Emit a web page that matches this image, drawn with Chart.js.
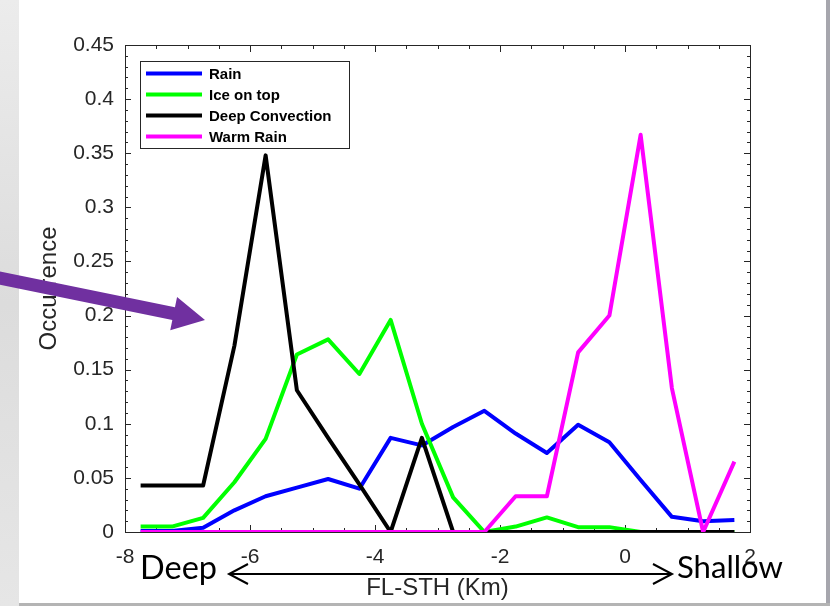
<!DOCTYPE html>
<html>
<head>
<meta charset="utf-8">
<script src="https://cdn.jsdelivr.net/npm/chart.js@4/dist/chart.umd.min.js"></script>
<style>
  html, body { margin: 0; padding: 0; background: #fff; }
  canvas { display: block; }
</style>
</head>
<body>
<canvas id="chart" width="830" height="606"></canvas>
<script>
// bin centres (km) and occurrence for each class
var xCenters = [-7.75, -7.25, -6.75, -6.25, -5.75, -5.25, -4.75, -4.25, -3.75, -3.25,
                -2.75, -2.25, -1.75, -1.25, -0.75, -0.25, 0.25, 0.75, 1.25, 1.75];
var rain = [0.001, 0.001, 0.004, 0.020, 0.033, 0.041, 0.049, 0.040, 0.087, 0.080,
            0.097, 0.112, 0.091, 0.073, 0.099, 0.083, 0.048, 0.014, 0.010, 0.011];
var iceOnTop = [0.005, 0.005, 0.013, 0.046, 0.086, 0.164, 0.178, 0.146, 0.196, 0.100,
                0.032, 0.000, 0.005, 0.0135, 0.0045, 0.0045, 0.000, 0.000, 0.000, 0.000];
var deepConvection = [0.043, 0.043, 0.043, 0.172, 0.348, 0.131, 0.087, 0.044, 0.000, 0.087,
                      0.000, 0.000, 0.000, 0.000, 0.000, 0.000, 0.000, 0.000, 0.000, 0.000];
var warmRain = [0, 0, 0, 0, 0, 0, 0, 0, 0, 0,
                0, 0, 0.033, 0.033, 0.166, 0.200, 0.367, 0.133, 0.000, 0.065];

var seriesNames = ["Rain", "Ice on top", "Deep Convection", "Warm Rain"];
var seriesColors = ["#0000ff", "#00ff00", "#000000", "#ff00ff"];
var seriesValues = [rain, iceOnTop, deepConvection, warmRain];

var xTicks = [-8, -6, -4, -2, 0, 2];
var yTicks = [0, 0.05, 0.1, 0.15, 0.2, 0.25, 0.3, 0.35, 0.4, 0.45];

var axisColor = "#262626";
var sansFont = "'Liberation Sans', Arial, sans-serif";

// slide background + white figure panel
var backgroundPlugin = {
    id: "background",
    beforeDraw: function (chart) {
        var ctx = chart.ctx;
        ctx.save();
        var g = ctx.createLinearGradient(0, 0, 0, 606);
        g.addColorStop(0, "#ececec");
        g.addColorStop(0.5, "#dcdcdc");
        g.addColorStop(1, "#e6e6e6");
        ctx.fillStyle = g;
        ctx.fillRect(0, 0, 830, 606);
        ctx.fillStyle = "#a6a6ad";
        ctx.fillRect(826, 0, 4, 606);
        ctx.fillStyle = "#b4b4b4";
        ctx.fillRect(19, 603, 811, 3);
        ctx.fillStyle = "#ffffff";
        ctx.fillRect(19, 0, 807, 603);
        ctx.restore();
    }
};

// MATLAB style box with inward ticks, drawn under the lines
var axesBoxPlugin = {
    id: "axesBox",
    beforeDatasetsDraw: function (chart) {
        var ctx = chart.ctx, a = chart.chartArea;
        var xs = chart.scales.x, ys = chart.scales.y;
        ctx.save();
        ctx.strokeStyle = axisColor;
        ctx.lineWidth = 1;
        ctx.strokeRect(Math.round(a.left) + 0.5, Math.round(a.top) + 0.5,
                       Math.round(a.right - a.left), Math.round(a.bottom - a.top));
        ctx.beginPath();
        for (var i = 0; i <= 20; i++) {
            var v = -8 + i * 0.5;
            var px = Math.round(xs.getPixelForValue(v)) + 0.5;
            var len = (i % 4 === 0) ? 7 : 4;
            ctx.moveTo(px, a.bottom); ctx.lineTo(px, a.bottom - len);
            ctx.moveTo(px, a.top); ctx.lineTo(px, a.top + len);
        }
        for (var j = 0; j <= 45; j++) {
            var py = Math.round(ys.getPixelForValue(j / 100)) + 0.5;
            var l2 = (j % 5 === 0) ? 6 : 3;
            ctx.moveTo(a.left, py); ctx.lineTo(a.left + l2, py);
            ctx.moveTo(a.right, py); ctx.lineTo(a.right - l2, py);
        }
        ctx.stroke();
        ctx.restore();
    }
};

function fitText(ctx, text, family, target) {
    ctx.font = "100px " + family;
    var w = ctx.measureText(text).width;
    ctx.font = (100 * target / w).toFixed(1) + "px " + family;
}

// legend, purple pointer and the Deep <-> Shallow annotation
var overlayPlugin = {
    id: "overlay",
    afterDraw: function (chart) {
        var ctx = chart.ctx;
        ctx.save();

        // legend
        ctx.fillStyle = "#ffffff";
        ctx.fillRect(140, 61, 209, 87);
        ctx.strokeStyle = axisColor;
        ctx.lineWidth = 1;
        ctx.strokeRect(140.5, 61.5, 209, 87);
        ctx.font = "bold 15px " + sansFont;
        ctx.textBaseline = "middle";
        ctx.textAlign = "left";
        chart.data.datasets.forEach(function (ds, i) {
            var y = 73.5 + i * 21;
            ctx.strokeStyle = ds.borderColor;
            ctx.lineWidth = 4;
            ctx.beginPath();
            ctx.moveTo(146, y); ctx.lineTo(202, y);
            ctx.stroke();
            ctx.fillStyle = "#000000";
            ctx.fillText(ds.label, 209, y + 1);
        });

        // purple arrow
        ctx.save();
        ctx.translate(205, 320);
        ctx.rotate(Math.atan2(43, 210));
        ctx.fillStyle = "#7030a0";
        ctx.beginPath();
        ctx.moveTo(0, 0);
        ctx.lineTo(-32, -17);
        ctx.lineTo(-32, -6.5);
        ctx.lineTo(-230, -6.5);
        ctx.lineTo(-230, 6.5);
        ctx.lineTo(-32, 6.5);
        ctx.lineTo(-32, 17);
        ctx.closePath();
        ctx.fill();
        ctx.restore();

        // Deep <-> Shallow
        var fam = "Lato, 'Open Sans', sans-serif";
        ctx.fillStyle = "#000000";
        ctx.textBaseline = "alphabetic";
        fitText(ctx, "Deep", fam, 77);
        ctx.fillText("Deep", 140, 579);
        fitText(ctx, "Shallow", fam, 106);
        ctx.fillText("Shallow", 677, 578);

        ctx.strokeStyle = "#000000";
        ctx.lineWidth = 2;
        ctx.beginPath();
        ctx.moveTo(229, 574); ctx.lineTo(672, 574);
        ctx.moveTo(248, 564); ctx.lineTo(229, 574); ctx.lineTo(248, 584);
        ctx.moveTo(653, 564); ctx.lineTo(672, 574); ctx.lineTo(653, 584);
        ctx.stroke();

        ctx.restore();
    }
};

var datasets = seriesNames.map(function (name, i) {
    return {
        label: name,
        data: xCenters.map(function (x, k) { return { x: x, y: seriesValues[i][k] }; }),
        borderColor: seriesColors[i],
        backgroundColor: seriesColors[i],
        borderWidth: 4,
        borderJoinStyle: "round",
        pointRadius: 0,
        tension: 0,
        fill: false,
        order: seriesNames.length - i
    };
});

new Chart(document.getElementById("chart"), {
    type: "line",
    data: { datasets: datasets },
    options: {
        responsive: false,
        animation: false,
        layout: { padding: { left: 0, top: 45, right: 80, bottom: 0 } },
        plugins: {
            legend: { display: false },
            tooltip: { enabled: false }
        },
        scales: {
            x: {
                type: "linear",
                min: -8,
                max: 2,
                afterBuildTicks: function (s) { s.ticks = xTicks.map(function (v) { return { value: v }; }); },
                afterFit: function (s) { s.height = 74; },
                grid: { display: false, drawTicks: false },
                border: { display: false },
                ticks: {
                    color: axisColor,
                    padding: 13,
                    font: { family: sansFont, size: 21 },
                    callback: function (v) { return String(v); }
                },
                title: {
                    display: true,
                    text: "FL-STH (Km)",
                    color: axisColor,
                    font: { family: sansFont, size: 24 },
                    padding: { top: 0, bottom: 3 }
                }
            },
            y: {
                type: "linear",
                min: 0,
                max: 0.45,
                afterBuildTicks: function (s) { s.ticks = yTicks.map(function (v) { return { value: v }; }); },
                afterFit: function (s) { s.width = 125; },
                grid: { display: false, drawTicks: false },
                border: { display: false },
                ticks: {
                    color: axisColor,
                    padding: 11,
                    font: { family: sansFont, size: 21 },
                    callback: function (v) { return String(parseFloat(v.toFixed(2))); }
                },
                title: {
                    display: true,
                    text: "Occurrence",
                    color: axisColor,
                    font: { family: sansFont, size: 24 },
                    padding: { top: 35, bottom: 0 }
                }
            }
        }
    },
    plugins: [backgroundPlugin, axesBoxPlugin, overlayPlugin]
});
</script>
</body>
</html>
